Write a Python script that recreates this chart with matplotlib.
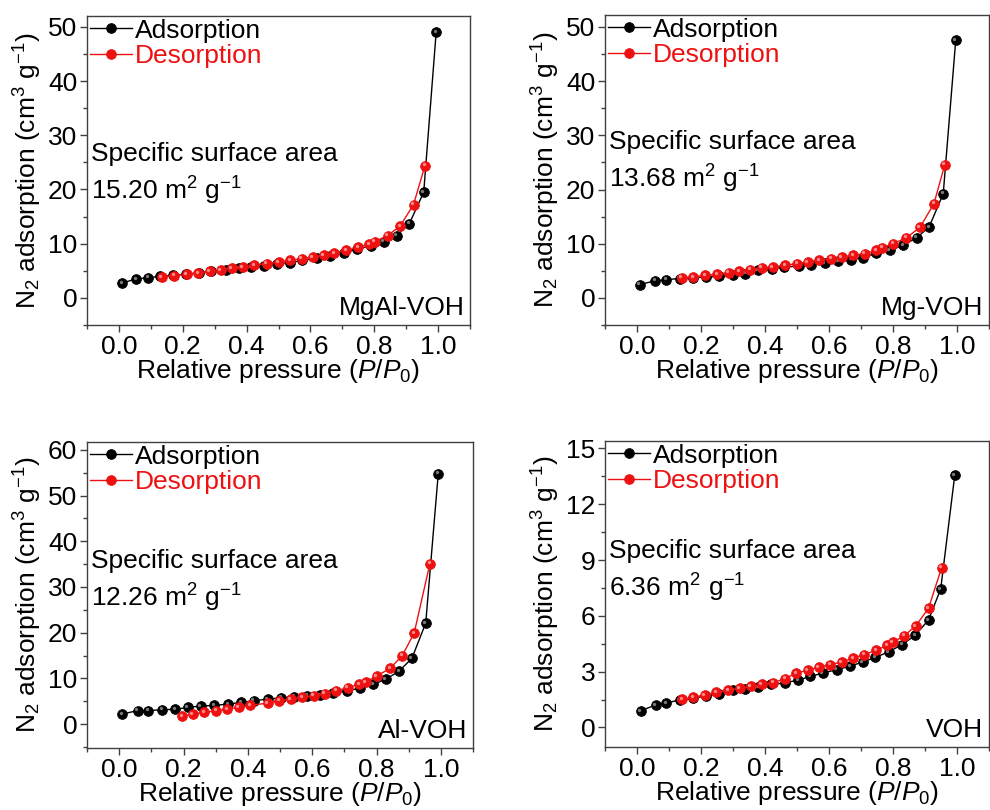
import matplotlib
matplotlib.use("Agg")
import matplotlib.pyplot as plt
from matplotlib.ticker import MultipleLocator
from matplotlib import transforms

plt.rcParams['font.family'] = ['Liberation Sans', 'DejaVu Sans']
plt.rcParams['mathtext.fontset'] = 'custom'
plt.rcParams['mathtext.rm'] = 'Liberation Sans'
plt.rcParams['mathtext.it'] = 'Liberation Sans:italic'
plt.rcParams['mathtext.bf'] = 'Liberation Sans:bold'

# ---------------- data ----------------
samples = ["MgAl-VOH", "Mg-VOH", "Al-VOH", "VOH"]
areas = ["15.20", "13.68", "12.26", "6.36"]

mgal_ads_x = [0.01, 0.055, 0.092, 0.13, 0.17, 0.21, 0.25, 0.29, 0.335, 0.375, 0.415, 0.455, 0.495,
              0.535, 0.575, 0.62, 0.66, 0.705, 0.745, 0.79, 0.83, 0.87, 0.91, 0.955, 0.994]
mgal_ads_y = [2.76, 3.5, 3.74, 3.95, 4.15, 4.4, 4.6, 4.95, 5.2, 5.45, 5.7, 5.95, 6.2,
              6.5, 6.9, 7.3, 7.7, 8.3, 9.0, 9.6, 10.4, 11.5, 13.7, 19.5, 49.0]
mgal_des_x = [0.134, 0.173, 0.212, 0.249, 0.285, 0.319, 0.353, 0.388, 0.423, 0.463, 0.5, 0.536,
              0.573, 0.607, 0.641, 0.675, 0.712, 0.749, 0.785, 0.802, 0.842, 0.881, 0.923, 0.959]
mgal_des_y = [3.87, 4.11, 4.36, 4.6, 4.9, 5.15, 5.5, 5.7, 6.07, 6.32, 6.6, 6.93,
              7.24, 7.55, 7.85, 8.28, 8.77, 9.33, 9.94, 10.4, 11.5, 13.25, 17.2, 24.4]

mg_ads_x = [0.008, 0.056, 0.092, 0.134, 0.175, 0.215, 0.257, 0.299, 0.338, 0.377, 0.422, 0.46,
            0.506, 0.544, 0.586, 0.628, 0.67, 0.706, 0.748, 0.79, 0.832, 0.874, 0.913, 0.957, 0.996]
mg_ads_y = [2.46, 3.14, 3.38, 3.57, 3.7, 3.85, 4.0, 4.18, 4.5, 5.1, 5.4, 5.65,
            5.9, 6.0, 6.46, 6.77, 7.07, 7.4, 8.2, 8.8, 9.7, 11.1, 13.1, 19.25, 47.5]
mg_des_x = [0.14, 0.176, 0.213, 0.25, 0.286, 0.32, 0.354, 0.39, 0.424, 0.463, 0.5, 0.534,
            0.57, 0.607, 0.64, 0.675, 0.712, 0.748, 0.767, 0.8, 0.842, 0.884, 0.928, 0.962]
mg_des_y = [3.75, 3.87, 4.18, 4.37, 4.67, 4.92, 5.23, 5.54, 5.72, 6.03, 6.33, 6.64,
            6.95, 7.26, 7.56, 7.87, 8.18, 8.8, 9.29, 10.0, 11.1, 13.0, 17.4, 24.6]

al_ads_x = [0.01, 0.057, 0.091, 0.133, 0.174, 0.213, 0.254, 0.296, 0.339, 0.38, 0.418, 0.462,
            0.503, 0.545, 0.585, 0.624, 0.666, 0.707, 0.749, 0.79, 0.829, 0.87, 0.91, 0.953, 0.992]
al_ads_y = [2.24, 2.96, 2.96, 3.18, 3.25, 3.68, 3.97, 4.12, 4.4, 4.77, 5.13, 5.49,
            5.8, 6.0, 6.2, 6.4, 6.93, 7.3, 7.87, 8.74, 9.82, 11.6, 14.4, 22.1, 54.8]
al_des_x = [0.195, 0.229, 0.265, 0.301, 0.335, 0.372, 0.408, 0.462, 0.498, 0.533, 0.569, 0.605,
            0.639, 0.675, 0.711, 0.746, 0.766, 0.8, 0.842, 0.88, 0.917, 0.966]
al_des_y = [1.73, 2.24, 2.6, 2.96, 3.32, 3.68, 4.12, 4.62, 5.13, 5.49, 5.85, 6.2,
            6.7, 7.3, 8.0, 8.74, 9.24, 10.5, 12.2, 15.0, 19.9, 35.1]

voh_ads_x = [0.011, 0.058, 0.092, 0.134, 0.175, 0.215, 0.255, 0.3, 0.336, 0.378, 0.42, 0.461,
             0.503, 0.541, 0.58, 0.624, 0.666, 0.705, 0.745, 0.786, 0.828, 0.869, 0.911, 0.949, 0.993]
voh_ads_y = [0.89, 1.21, 1.32, 1.48, 1.58, 1.68, 1.82, 1.99, 2.08, 2.17, 2.31, 2.4,
             2.54, 2.74, 2.92, 3.11, 3.29, 3.52, 3.77, 4.06, 4.45, 4.95, 5.78, 7.44, 13.56]
voh_des_x = [0.142, 0.175, 0.212, 0.248, 0.285, 0.321, 0.355, 0.39, 0.425, 0.463, 0.497, 0.534,
             0.568, 0.603, 0.64, 0.676, 0.71, 0.747, 0.781, 0.799, 0.835, 0.871, 0.911, 0.952]
voh_des_y = [1.51, 1.64, 1.74, 1.89, 1.99, 2.1, 2.21, 2.31, 2.4, 2.63, 2.92, 3.08,
             3.24, 3.38, 3.52, 3.74, 3.91, 4.15, 4.41, 4.57, 4.93, 5.46, 6.41, 8.59]

ads_x = [mgal_ads_x, mg_ads_x, al_ads_x, voh_ads_x]
ads_y = [mgal_ads_y, mg_ads_y, al_ads_y, voh_ads_y]
des_x = [mgal_des_x, mg_des_x, al_des_x, voh_des_x]
des_y = [mgal_des_y, mg_des_y, al_des_y, voh_des_y]

# ---------------- layout ----------------
W, H = 990, 810
boxes = [(87, 16, 470, 325), (605, 15, 989, 325), (87, 442, 473, 748), (605, 441, 989, 747)]
ylims = [(-5, 52), (-5, 52.2), (-5.2, 61.7), (-1.05, 15.4)]
ymaj = [10, 10, 10, 3]
ymin = [5, 5, 5, 1.5]
txt_y = [0.555, 0.59, 0.61, 0.64]

fig = plt.figure(figsize=(W / 100, H / 100), dpi=100)
FS = 19
spine_c = '#404040'

def ball(ax, x, y, col, hl, lw, label, z):
    ax.plot(x, y, '-', color=col, lw=lw, marker='o', ms=7, mfc=col, mec=col, mew=0.6,
            label=label, zorder=z)
    off = transforms.offset_copy(ax.transData, fig=fig, x=-1.0, y=1.0, units='points')
    ax.plot(x, y, 'o', ls='none', ms=2.4, mfc=hl, mec='none', transform=off, zorder=z + 0.1, alpha=0.8)

for i in range(4):
    l, t, r, b = boxes[i]
    ax = fig.add_axes([l / W, (H - b) / H, (r - l) / W, (b - t) / H])
    ball(ax, ads_x[i], ads_y[i], 'black', '#9a9a9a', 1.0, 'Adsorption', 3)
    ball(ax, des_x[i], des_y[i], '#ee1111', '#ffaaaa', 1.0, 'Desorption', 4)

    ax.set_xlim(-0.1, 1.1)
    ax.set_ylim(*ylims[i])
    ax.xaxis.set_major_locator(MultipleLocator(0.2))
    ax.xaxis.set_minor_locator(MultipleLocator(0.1))
    ax.yaxis.set_major_locator(MultipleLocator(ymaj[i]))
    ax.yaxis.set_minor_locator(MultipleLocator(ymin[i]))
    ax.set_xticks([0.0, 0.2, 0.4, 0.6, 0.8, 1.0])
    ax.set_xticklabels(['0.0', '0.2', '0.4', '0.6', '0.8', '1.0'])
    ax.tick_params(which='both', direction='out', top=False, right=False,
                   labelsize=FS, color=spine_c, width=1.0, pad=2)
    ax.tick_params(which='major', length=5)
    ax.tick_params(which='minor', length=3)
    for s in ax.spines.values():
        s.set_color(spine_c)
        s.set_linewidth(1.0)

    ax.set_xlabel('Relative pressure ($P$/$P_0$)', fontsize=FS, labelpad=-1)
    ax.set_ylabel('N$_2$ adsorption (cm$^3$ g$^{\u22121}$)', fontsize=FS, labelpad=3)

    leg = ax.legend(loc='upper left', frameon=False, fontsize=FS, handlelength=1.6,
                    handletextpad=0.1, borderaxespad=0.0, borderpad=0.1, labelspacing=0.05,
                    markerscale=1.0)
    for txt, c in zip(leg.get_texts(), ['black', '#ee1111']):
        txt.set_color(c)

    ax.text(0.01, txt_y[i], 'Specific surface area', transform=ax.transAxes,
            fontsize=FS, va='center', ha='left')
    ax.text(0.01, txt_y[i] - 0.12, areas[i] + ' m$^2$ g$^{\u22121}$', transform=ax.transAxes,
            fontsize=FS, va='center', ha='left')
    ax.text(0.985, 0.015, samples[i], transform=ax.transAxes, fontsize=FS,
            ha='right', va='bottom')

fig.savefig('out.png', dpi=100)
